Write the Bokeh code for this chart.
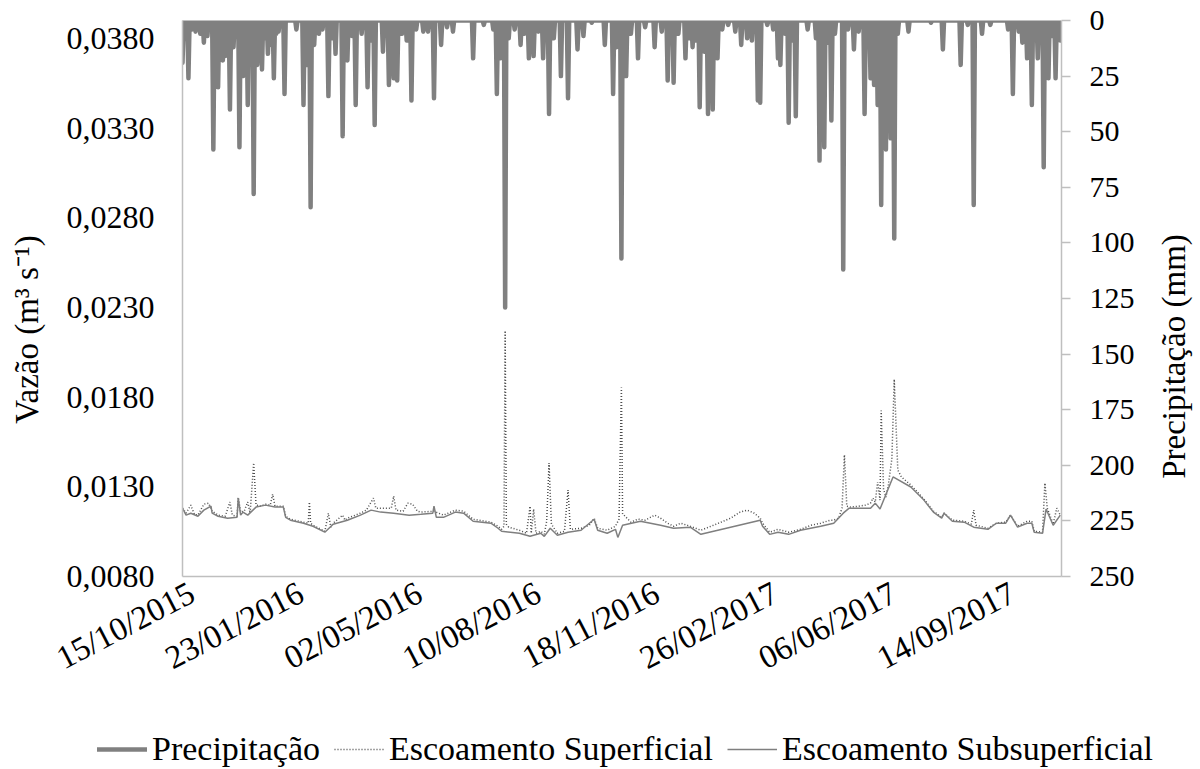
import numpy as np
from bokeh.plotting import figure
from bokeh.layouts import row, column
from bokeh.models import (Range1d, LinearAxis, FixedTicker, CustomJSTickFormatter,
                          Legend, LegendItem, Label)
from bokeh.embed import file_html
from bokeh.resources import INLINE

FONT = "Liberation Serif"

# Série diária; dia 0 = 15/10/2015
n_dias = 741
dias_rotulo = [0, 100, 200, 300, 400, 500, 600, 700]
rotulos_x = ["15/10/2015", "23/01/2016", "02/05/2016", "10/08/2016",
             "18/11/2016", "26/02/2017", "06/06/2017", "14/09/2017"]

# Precipitação diária (mm) nos dias com chuva
chuva_dia = [0, 2, 5, 8, 11, 15, 18, 21, 26, 28, 30, 32, 34, 36, 38, 40, 43, 45, 48, 51,
             53, 55, 58, 60, 63, 65, 67, 70, 72, 74, 77, 79, 81, 86, 96, 102, 105, 108, 111, 115,
             118, 123, 126, 129, 135, 139, 143, 146, 151, 156, 159, 162, 169, 174, 176, 178, 181, 185, 189, 193,
             197, 203, 207, 212, 218, 223, 228, 245, 254, 262, 265, 268, 272, 275, 280, 285, 288, 292, 296, 300,
             304, 309, 313, 319, 325, 333, 338, 345, 356, 363, 366, 370, 374, 378, 384, 390, 398, 404, 409, 414,
             418, 424, 427, 430, 433, 436, 440, 443, 447, 451, 455, 460, 466, 471, 476, 480, 485, 487, 493, 498,
             502, 504, 508, 511, 514, 517, 527, 534, 537, 539, 541, 544, 547, 550, 557, 561, 566, 570, 575, 578,
             580, 583, 586, 589, 591, 593, 595, 597, 600, 603, 612, 631, 641, 656, 662, 667, 674, 681, 696, 700,
             705, 708, 712, 716, 719, 721, 726, 728, 730, 733, 736, 740]
chuva_mm = [19, 8, 26, 4, 5, 6, 10, 7, 58, 12, 30, 14, 18, 16, 9, 40, 12, 6, 57, 25,
            10, 38, 14, 78, 20, 9, 22, 8, 15, 11, 26, 6, 5, 33, 4, 38, 20, 84, 11, 6,
            4, 34, 8, 15, 52, 18, 7, 38, 6, 30, 9, 47, 14, 29, 12, 26, 27, 6, 9, 36,
            4, 5, 5, 35, 11, 3, 5, 17, 2, 4, 33, 17, 129, 8, 4, 11, 6, 17, 16, 5,
            17, 42, 8, 25, 35, 13, 7, 1, 11, 33, 12, 107, 25, 6, 17, 3, 12, 5, 27, 28,
            6, 17, 8, 12, 9, 39, 14, 42, 40, 17, 4, 2, 5, 11, 8, 9, 36, 37, 2, 4,
            17, 20, 6, 46, 9, 43, 4, 8, 63, 20, 57, 10, 45, 6, 112, 4, 13, 5, 42, 10,
            26, 29, 38, 83, 20, 58, 15, 53, 98, 6, 5, 1, 13, 20, 2, 83, 6, 2, 4, 33,
            5, 10, 17, 38, 8, 17, 66, 9, 26, 7, 26, 9]

# Escoamento subsuperficial (m³ s⁻¹)
sub_dia = [0, 3, 7, 13, 18, 24, 25, 30, 38, 46, 47, 49, 51, 55, 62, 70, 78, 85, 87, 91,
           102, 110, 120, 127, 139, 150, 159, 167, 178, 191, 201, 211, 212, 214, 220, 230, 237, 245, 260, 266,
           269, 284, 293, 302, 305, 310, 316, 325, 336, 347, 350, 358, 365, 367, 371, 386, 403, 414, 428, 437,
           487, 489, 495, 502, 511, 521, 538, 549, 557, 562, 580, 584, 588, 599, 614, 625, 633, 640, 642, 649,
           659, 667, 679, 686, 694, 698, 704, 712, 716, 718, 725, 728, 734, 740]
sub_vazao = [0.01181, 0.01142, 0.01153, 0.01136, 0.01170, 0.01192, 0.01153, 0.01136, 0.01125, 0.01130,
             0.01237, 0.01142, 0.01159, 0.01142, 0.01187, 0.01198, 0.01187, 0.01187, 0.01130, 0.01114,
             0.01097, 0.01080, 0.01047, 0.01091, 0.01114, 0.01142, 0.01170, 0.01159, 0.01153, 0.01142,
             0.01147, 0.01153, 0.01192, 0.01130, 0.01130, 0.01159, 0.01153, 0.01108, 0.01097, 0.01069,
             0.01052, 0.01041, 0.01024, 0.01041, 0.01024, 0.01069, 0.01030, 0.01047, 0.01058, 0.01119,
             0.01058, 0.01041, 0.01063, 0.01018, 0.01086, 0.01108, 0.01086, 0.01069, 0.01075, 0.01035,
             0.01114, 0.01080, 0.01035, 0.01047, 0.01035, 0.01058, 0.01080, 0.01097, 0.01153, 0.01181,
             0.01181, 0.01209, 0.01176, 0.01355, 0.01299, 0.01226, 0.01159, 0.01125, 0.01153, 0.01108,
             0.01103, 0.01075, 0.01063, 0.01097, 0.01097, 0.01142, 0.01075, 0.01097, 0.01097, 0.01047,
             0.01041, 0.01176, 0.01086, 0.01142]

# Escoamento superficial (m³ s⁻¹)
sup_dia = [0, 3, 7, 10, 13, 18, 22, 25, 30, 36, 40, 42, 46, 47, 49, 52, 55, 57, 60, 62,
           66, 70, 74, 76, 78, 85, 87, 91, 102, 106, 107, 108, 110, 120, 123, 125, 127, 135, 137, 139,
           150, 155, 161, 163, 167, 172, 176, 178, 180, 186, 190, 194, 198, 201, 212, 220, 230, 237, 245, 260,
           266, 269, 271, 272, 273, 275, 284, 290, 293, 294, 296, 298, 302, 305, 307, 309, 311, 316, 322, 325,
           327, 336, 343, 347, 350, 358, 365, 368, 370, 371, 374, 378, 384, 390, 398, 403, 409, 414, 420, 428,
           437, 450, 462, 470, 476, 482, 487, 489, 495, 502, 511, 521, 530, 538, 546, 549, 553, 556, 558, 560,
           563, 570, 576, 580, 582, 584, 586, 588, 589, 591, 593, 595, 598, 600, 603, 606, 614, 625, 633, 640,
           642, 649, 659, 665, 667, 669, 679, 686, 694, 698, 704, 712, 716, 718, 725, 727, 729, 734, 737, 740]
sup_vazao = [0.01181, 0.01153, 0.01198, 0.01147, 0.01142, 0.01203, 0.01209, 0.01164, 0.01142, 0.01136,
             0.01215, 0.01142, 0.01136, 0.01242, 0.01159, 0.01164, 0.01215, 0.01153, 0.01433, 0.01198,
             0.01192, 0.01203, 0.01198, 0.01259, 0.01192, 0.01192, 0.01136, 0.01119, 0.01103, 0.01097,
             0.01215, 0.01097, 0.01086, 0.01052, 0.01153, 0.01075, 0.01097, 0.01142, 0.01114, 0.01125,
             0.01153, 0.01170, 0.01237, 0.01181, 0.01181, 0.01181, 0.01181, 0.01248, 0.01170, 0.01164,
             0.01209, 0.01203, 0.01164, 0.01159, 0.01164, 0.01142, 0.01170, 0.01164, 0.01119, 0.01103,
             0.01080, 0.01063, 0.01080, 0.02170, 0.01092, 0.01075, 0.01058, 0.01041, 0.01192, 0.01041,
             0.01176, 0.01041, 0.01052, 0.01036, 0.01108, 0.01433, 0.01092, 0.01041, 0.01052, 0.01282,
             0.01063, 0.01069, 0.01086, 0.01125, 0.01069, 0.01058, 0.01080, 0.01120, 0.01854, 0.01150,
             0.01130, 0.01103, 0.01120, 0.01114, 0.01142, 0.01125, 0.01097, 0.01080, 0.01097, 0.01080,
             0.01058, 0.01092, 0.01125, 0.01159, 0.01170, 0.01153, 0.01125, 0.01097, 0.01047, 0.01063,
             0.01047, 0.01063, 0.01086, 0.01097, 0.01114, 0.01114, 0.01125, 0.01181, 0.01478, 0.01192,
             0.01187, 0.01192, 0.01198, 0.01209, 0.01237, 0.01215, 0.01327, 0.01226, 0.01725, 0.01287,
             0.01243, 0.01310, 0.01456, 0.01900, 0.01394, 0.01355, 0.01310, 0.01232, 0.01164, 0.01130,
             0.01153, 0.01114, 0.01108, 0.01092, 0.01170, 0.01086, 0.01069, 0.01097, 0.01103, 0.01142,
             0.01080, 0.01108, 0.01108, 0.01052, 0.01047, 0.01321, 0.01181, 0.01092, 0.01181, 0.01142]

vazao_ticks = [0.008, 0.013, 0.018, 0.023, 0.028, 0.033, 0.038]
chuva_ticks = [0, 25, 50, 75, 100, 125, 150, 175, 200, 225, 250]

# precipitação em todos os dias da série (zero nos dias sem chuva)
dias = np.arange(n_dias)
chuva = np.zeros(n_dias)
chuva[chuva_dia] = chuva_mm

AXIS_GRAY = "#bfbfbf"

# estilos das séries (usados no gráfico e na legenda)
estilo_chuva = dict(line_color="#808080", line_width=4.5, line_join="round", line_cap="round")
estilo_sup = dict(line_color="#4d4d4d", line_width=1.5, line_dash="1 2")
estilo_sub = dict(line_color="#7f7f7f", line_width=1.5)

TOP_H = 700
FRAME_TOP, FRAME_BOTTOM = 20, 576


def painel_texto(w, h, y_range):
    """Figura sem eixos usada para textos fora da área do gráfico."""
    f = figure(width=w, height=h, output_backend="svg", toolbar_location=None,
               x_range=Range1d(0, w), y_range=y_range, min_border=0,
               x_axis_location=None, y_axis_location=None)
    f.grid.visible = False
    f.outline_line_color = None
    f.background_fill_color = "white"
    f.border_fill_color = "white"
    return f


p = figure(width=1090, height=TOP_H, output_backend="svg", toolbar_location=None,
           x_range=Range1d(0, n_dias), y_range=Range1d(0.008, 0.039),
           min_border_left=132, min_border_right=79, min_border_top=FRAME_TOP,
           min_border_bottom=TOP_H - FRAME_BOTTOM)
p.extra_y_ranges = {"chuva": Range1d(250, 0)}
p.grid.visible = False
p.outline_line_color = None
p.background_fill_color = "white"
p.border_fill_color = "white"

p.line(dias, chuva, y_range_name="chuva", **estilo_chuva)
p.line(sup_dia, sup_vazao, **estilo_sup)
p.line(sub_dia, sub_vazao, **estilo_sub)

# eixo esquerdo: vazão
ya = p.yaxis[0]
ya.ticker = FixedTicker(ticks=vazao_ticks)
ya.formatter = CustomJSTickFormatter(code="return tick.toFixed(4).replace('.', ',');")
ya.major_tick_out = 0
ya.major_tick_in = 0
ya.major_tick_line_color = None
ya.minor_tick_line_color = None
ya.axis_line_color = AXIS_GRAY
ya.axis_line_width = 1.5
ya.major_label_standoff = 28
ya.major_label_text_font_size = "32px"

# eixo direito: precipitação
yr = LinearAxis(y_range_name="chuva", ticker=FixedTicker(ticks=chuva_ticks))
yr.major_tick_out = 9
yr.major_tick_in = 0
yr.major_tick_line_color = AXIS_GRAY
yr.major_tick_line_width = 1.5
yr.minor_tick_line_color = None
yr.axis_line_color = AXIS_GRAY
yr.axis_line_width = 1.5
yr.major_label_standoff = 19
yr.major_label_text_font_size = "30px"
p.add_layout(yr, "right")

# eixo horizontal: datas
xa = p.xaxis[0]
xa.ticker = FixedTicker(ticks=dias_rotulo)
xa.major_label_overrides = {d: r for d, r in zip(dias_rotulo, rotulos_x)}
xa.major_label_orientation = 0.48
xa.major_tick_out = 0
xa.major_tick_in = 0
xa.major_tick_line_color = None
xa.minor_tick_line_color = None
xa.axis_line_color = AXIS_GRAY
xa.axis_line_width = 1.5
xa.major_label_standoff = 14
xa.major_label_text_font_size = "33px"

for ax in (ya, yr, xa):
    ax.major_label_text_font = FONT
    ax.major_label_text_color = "black"

# títulos dos eixos; o quadro destas figuras fica alinhado com o do gráfico
t_esq = painel_texto(50, TOP_H, Range1d(FRAME_BOTTOM, FRAME_TOP))
t_esq.add_layout(Label(x=26, y=329, text="Vazão (m³ s⁻¹)", angle=np.pi / 2,
                       text_align="center", text_baseline="middle",
                       text_font=FONT, text_font_size="33px", text_color="black"))
t_dir = painel_texto(60, TOP_H, Range1d(FRAME_BOTTOM, FRAME_TOP))
t_dir.add_layout(Label(x=33, y=356, text="Precipitação (mm)", angle=np.pi / 2,
                       text_align="center", text_baseline="middle",
                       text_font=FONT, text_font_size="33px", text_color="black"))

# legenda
leg = painel_texto(1200, 69, Range1d(69, 0))
itens = []
for rotulo, estilo in (("Precipitação", estilo_chuva),
                       ("Escoamento Superficial", estilo_sup),
                       ("Escoamento Subsuperficial", estilo_sub)):
    r = leg.line([-20, -10], [-20, -20], **estilo)
    itens.append(LegendItem(label=rotulo, renderers=[r]))
legend = Legend(items=itens, orientation="horizontal", location=(97, 1),
                border_line_color=None, background_fill_alpha=0,
                label_text_font=FONT, label_text_font_size="34px",
                label_text_color="black",
                glyph_width=50, glyph_height=34, label_standoff=5, spacing=14,
                padding=0, margin=0)
leg.add_layout(legend)

layout = column(row(t_esq, p, t_dir, spacing=0), leg, spacing=0)

open("out.html", "w").write(file_html(layout, INLINE))
